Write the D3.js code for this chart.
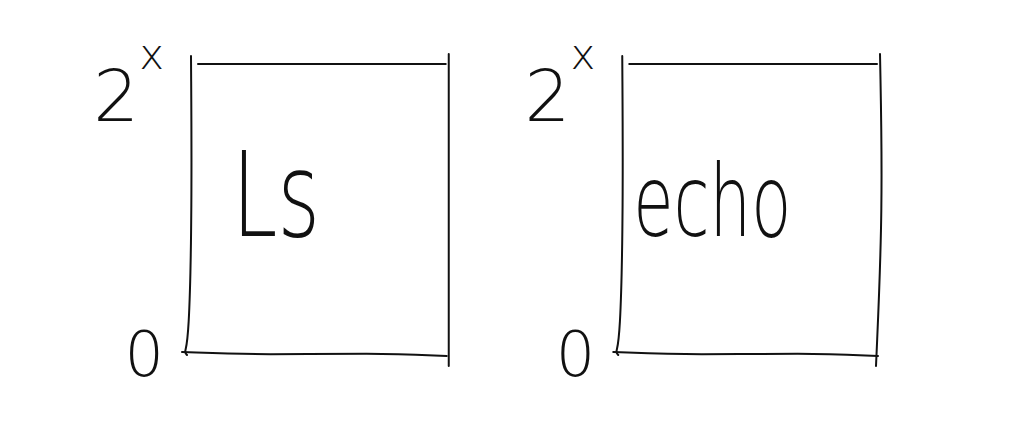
<!DOCTYPE html>
<html>
<head>
<meta charset="utf-8">
<script src="https://cdn.jsdelivr.net/npm/d3@7"></script>
<style>
  body { margin: 0; background: #fff; }
  svg { display: block; }
</style>
</head>
<body>
<div id="chart"></div>
<script>
// data
var panels = ["Ls", "echo"];
var yTicks = [0, 1];
var yTickLabels = ["0", "2^x"];

var width = 1022, height = 448;
var margin = { top: 62, right: 142, bottom: 94, left: 190 };

var svg = d3.select("#chart")
    .append("svg")
    .attr("width", width)
    .attr("height", height);

var xScale = d3.scaleBand()
    .domain(panels)
    .range([margin.left, width - margin.right])
    .paddingInner(0.4);

var yScale = d3.scaleLinear()
    .domain([0, 1])
    .range([height - margin.bottom, margin.top]);

var bw = xScale.bandwidth();
var line = d3.line().curve(d3.curveBasis);

panels.forEach(function(p, i) {
    var x0 = xScale(p), x1 = x0 + bw;
    var y0 = yScale(0), y1 = yScale(1);
    var g = svg.append("g").attr("class", "panel");

    // frame, drawn side by side like a pen sketch
    var sides = [
        [[x0 + 1, y1 - 6], [x0 + 2, (y0 + y1) / 2], [x0 - 1, y0 - 12], [x0 - 6, y0 - 2], [x0 - 3, y0 + 1]],
        [[x0 - 8, y0 - 2], [x0 + bw * 0.3, y0 + 1], [x0 + bw * 0.7, y0 - 1], [x1 - 2, y0 + 2]],
        [[x0 + 8, y1 + 2], [x1 - 3, y1 + 2]],
        [[x1, y1 - 8], [x1 + (i ? 3 : 0), (y0 + y1) / 2], [x1 - (i ? 4 : 0), y0 + 12]]
    ];
    g.selectAll("path")
        .data(sides)
        .enter().append("path")
        .attr("d", line)
        .attr("fill", "none")
        .attr("stroke", "#111")
        .attr("stroke-width", 2)
        .attr("stroke-linecap", "round");

    // y labels
    var axis = d3.axisLeft(yScale)
        .tickValues(yTicks)
        .tickSize(0)
        .tickPadding(26)
        .tickFormat(function(d, k) { return yTickLabels[k]; });

    var ag = g.append("g")
        .attr("transform", "translate(" + x0 + ",0)")
        .call(axis);
    ag.select(".domain").remove();
    ag.selectAll("text")
        .attr("font-family", "DejaVu Sans")
        .attr("font-weight", 200)
        .attr("font-size", 62)
        .attr("fill", "#111")
        .each(function(d, k) {
            var t = d3.select(this);
            var lab = yTickLabels[k];
            if (lab.indexOf("^") > 0) {
                var parts = lab.split("^");
                t.text(null).attr("dy", "0.95em");
                t.append("tspan").attr("font-size", 72).text(parts[0]);
                t.append("tspan")
                    .attr("font-size", 42)
                    .attr("dy", "-1.25em")
                    .text(parts[1]);
            } else {
                t.attr("dy", "0.35em");
            }
        });

    // panel name
    g.append("text")
        .attr("x", x0 + (i ? 12 : 42))
        .attr("y", yScale(0.5) + 28)
        .attr("font-family", "DejaVu Sans")
        .attr("font-weight", 200)
        .attr("font-size", i ? 100 : 118)
        .attr("textLength", i ? 158 : 88)
        .attr("lengthAdjust", "spacingAndGlyphs")
        .attr("fill", "#111")
        .text(p);
});
</script>
</body>
</html>
